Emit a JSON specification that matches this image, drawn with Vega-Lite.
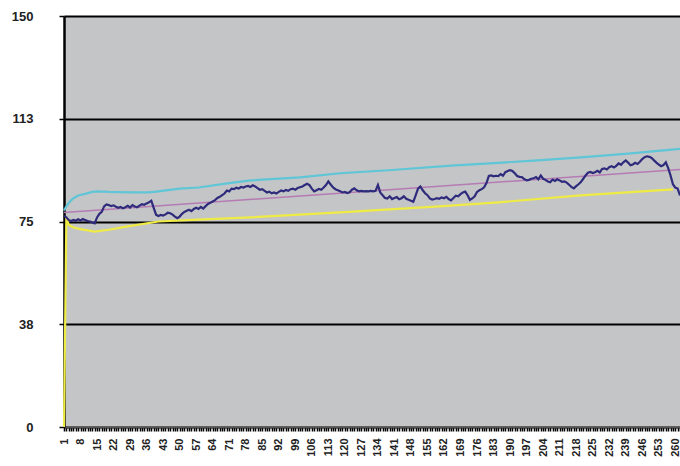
{
  "$schema": "https://vega.github.io/schema/vega-lite/v6.json",
  "width": 616,
  "height": 411,
  "autosize": {"type": "none"},
  "padding": {"left": 64, "top": 16, "right": 0, "bottom": 39},
  "background": "white",
  "config": {"view": {"fill": "#c4c5c7", "stroke": null}, "font": "Liberation Sans"},
  "datasets": {
    "price": [
      {"i":1,"v":77},{"i":2,"v":76.5},{"i":3,"v":75.5},{"i":4,"v":75.2},{"i":5,"v":75.6},{"i":6,"v":75.3},{"i":7,"v":75.8},{"i":8,"v":75.4},{"i":9,"v":75.9},{"i":10,"v":75.5},
      {"i":11,"v":75.2},{"i":12,"v":75.0},{"i":13,"v":74.6},{"i":14,"v":74.3},{"i":15,"v":76.5},{"i":16,"v":77.8},{"i":17,"v":78.5},{"i":18,"v":80.5},{"i":19,"v":81.2},{"i":20,"v":81.0},
      {"i":21,"v":80.6},{"i":22,"v":80.9},{"i":23,"v":80.4},{"i":24,"v":80.0},{"i":25,"v":80.3},{"i":26,"v":79.8},{"i":27,"v":80.2},{"i":28,"v":80.7},{"i":29,"v":80.1},{"i":30,"v":81.0},
      {"i":31,"v":80.5},{"i":32,"v":80.2},{"i":33,"v":80.8},{"i":34,"v":81.3},{"i":35,"v":81.1},{"i":36,"v":81.6},{"i":37,"v":82.0},{"i":38,"v":82.6},{"i":39,"v":80.0},{"i":40,"v":77.5},
      {"i":41,"v":77.0},{"i":42,"v":77.4},{"i":43,"v":77.2},{"i":44,"v":77.6},{"i":45,"v":78.2},{"i":46,"v":78.0},{"i":47,"v":77.5},{"i":48,"v":76.8},{"i":49,"v":76.2},{"i":50,"v":76.8},
      {"i":51,"v":77.8},{"i":52,"v":78.5},{"i":53,"v":78.9},{"i":54,"v":79.3},{"i":55,"v":78.8},{"i":56,"v":79.6},{"i":57,"v":80.0},{"i":58,"v":79.6},{"i":59,"v":80.3},{"i":60,"v":79.7},
      {"i":61,"v":80.6},{"i":62,"v":81.4},{"i":63,"v":81.8},{"i":64,"v":82.3},{"i":65,"v":82.8},{"i":66,"v":83.6},{"i":67,"v":84.0},{"i":68,"v":84.6},{"i":69,"v":85.2},{"i":70,"v":86.3},
      {"i":71,"v":86.0},{"i":72,"v":87.0},{"i":73,"v":86.8},{"i":74,"v":87.3},{"i":75,"v":87.0},{"i":76,"v":87.6},{"i":77,"v":87.4},{"i":78,"v":87.8},{"i":79,"v":88.0},{"i":80,"v":87.6},
      {"i":81,"v":88.2},{"i":82,"v":87.8},{"i":83,"v":87.2},{"i":84,"v":86.6},{"i":85,"v":86.8},{"i":86,"v":86.2},{"i":87,"v":85.6},{"i":88,"v":85.9},{"i":89,"v":85.3},{"i":90,"v":85.6},
      {"i":91,"v":85.2},{"i":92,"v":85.8},{"i":93,"v":86.3},{"i":94,"v":86.0},{"i":95,"v":86.5},{"i":96,"v":86.2},{"i":97,"v":86.8},{"i":98,"v":87.0},{"i":99,"v":86.6},{"i":100,"v":87.2},
      {"i":101,"v":87.5},{"i":102,"v":87.8},{"i":103,"v":88.3},{"i":104,"v":88.8},{"i":105,"v":88.3},{"i":106,"v":87.0},{"i":107,"v":86.0},{"i":108,"v":86.4},{"i":109,"v":86.9},{"i":110,"v":86.6},
      {"i":111,"v":87.4},{"i":112,"v":88.3},{"i":113,"v":89.6},{"i":114,"v":88.5},{"i":115,"v":87.4},{"i":116,"v":86.8},{"i":117,"v":86.4},{"i":118,"v":86.0},{"i":119,"v":85.6},{"i":120,"v":85.8},
      {"i":121,"v":85.4},{"i":122,"v":85.7},{"i":123,"v":86.6},{"i":124,"v":87.1},{"i":125,"v":86.4},{"i":126,"v":86.0},{"i":127,"v":86.2},{"i":128,"v":86.0},{"i":129,"v":86.1},{"i":130,"v":86.0},
      {"i":131,"v":86.2},{"i":132,"v":86.0},{"i":133,"v":86.2},{"i":134,"v":88.3},{"i":135,"v":85.6},{"i":136,"v":84.6},{"i":137,"v":83.6},{"i":138,"v":83.4},{"i":139,"v":84.2},{"i":140,"v":83.2},
      {"i":141,"v":83.6},{"i":142,"v":83.9},{"i":143,"v":83.1},{"i":144,"v":83.5},{"i":145,"v":84.2},{"i":146,"v":83.3},{"i":147,"v":82.9},{"i":148,"v":82.6},{"i":149,"v":82.2},{"i":150,"v":84.5},
      {"i":151,"v":87.0},{"i":152,"v":87.8},{"i":153,"v":86.4},{"i":154,"v":85.3},{"i":155,"v":84.6},{"i":156,"v":83.4},{"i":157,"v":83.0},{"i":158,"v":83.2},{"i":159,"v":83.5},{"i":160,"v":83.3},
      {"i":161,"v":83.8},{"i":162,"v":83.5},{"i":163,"v":84.0},{"i":164,"v":83.2},{"i":165,"v":82.7},{"i":166,"v":83.6},{"i":167,"v":84.4},{"i":168,"v":84.2},{"i":169,"v":85.0},{"i":170,"v":85.6},
      {"i":171,"v":85.9},{"i":172,"v":84.6},{"i":173,"v":82.9},{"i":174,"v":83.4},{"i":175,"v":84.2},{"i":176,"v":85.8},{"i":177,"v":86.4},{"i":178,"v":86.8},{"i":179,"v":87.5},{"i":180,"v":89.0},
      {"i":181,"v":91.6},{"i":182,"v":91.8},{"i":183,"v":91.5},{"i":184,"v":91.7},{"i":185,"v":91.6},{"i":186,"v":92.3},{"i":187,"v":91.7},{"i":188,"v":93.0},{"i":189,"v":93.4},{"i":190,"v":93.7},
      {"i":191,"v":93.4},{"i":192,"v":92.6},{"i":193,"v":91.6},{"i":194,"v":91.3},{"i":195,"v":91.2},{"i":196,"v":90.5},{"i":197,"v":90.0},{"i":198,"v":90.2},{"i":199,"v":90.6},{"i":200,"v":90.8},
      {"i":201,"v":91.2},{"i":202,"v":90.4},{"i":203,"v":91.8},{"i":204,"v":90.6},{"i":205,"v":90.2},{"i":206,"v":89.6},{"i":207,"v":89.3},{"i":208,"v":90.3},{"i":209,"v":89.8},{"i":210,"v":90.4},
      {"i":211,"v":90.0},{"i":212,"v":89.5},{"i":213,"v":89.6},{"i":214,"v":89.2},{"i":215,"v":88.4},{"i":216,"v":87.6},{"i":217,"v":87.1},{"i":218,"v":87.9},{"i":219,"v":88.6},{"i":220,"v":89.4},
      {"i":221,"v":90.6},{"i":222,"v":91.8},{"i":223,"v":92.8},{"i":224,"v":93.1},{"i":225,"v":92.7},{"i":226,"v":93.0},{"i":227,"v":93.5},{"i":228,"v":92.9},{"i":229,"v":94.2},{"i":230,"v":94.4},
      {"i":231,"v":94.0},{"i":232,"v":94.8},{"i":233,"v":95.2},{"i":234,"v":94.7},{"i":235,"v":95.3},{"i":236,"v":96.2},{"i":237,"v":95.7},{"i":238,"v":96.6},{"i":239,"v":97.3},{"i":240,"v":96.5},
      {"i":241,"v":95.5},{"i":242,"v":95.8},{"i":243,"v":96.4},{"i":244,"v":96.0},{"i":245,"v":96.8},{"i":246,"v":97.8},{"i":247,"v":98.5},{"i":248,"v":98.8},{"i":249,"v":98.6},{"i":250,"v":98.2},
      {"i":251,"v":97.3},{"i":252,"v":96.5},{"i":253,"v":95.8},{"i":254,"v":95.2},{"i":255,"v":95.6},{"i":256,"v":96.6},{"i":257,"v":94.5},{"i":258,"v":91.8},{"i":259,"v":88.6},{"i":260,"v":87.4},
      {"i":261,"v":87.0},{"i":262,"v":84.5}
    ],
    "bands": [
      {"s":"upper","i":1,"v":79},{"s":"upper","i":2,"v":80.5},{"s":"upper","i":3,"v":81.8},{"s":"upper","i":4,"v":82.7},{"s":"upper","i":5,"v":83.5},{"s":"upper","i":7,"v":84.5},{"s":"upper","i":10,"v":85.1},{"s":"upper","i":13,"v":85.8},{"s":"upper","i":15,"v":86},{"s":"upper","i":20,"v":85.8},{"s":"upper","i":30,"v":85.6},{"s":"upper","i":37,"v":85.6},{"s":"upper","i":41,"v":86},{"s":"upper","i":50,"v":87},{"s":"upper","i":58,"v":87.4},{"s":"upper","i":71,"v":89},{"s":"upper","i":80,"v":90},{"s":"upper","i":101,"v":91.1},{"s":"upper","i":118,"v":92.6},{"s":"upper","i":140,"v":93.8},{"s":"upper","i":165,"v":95.4},{"s":"upper","i":185,"v":96.4},{"s":"upper","i":200,"v":97.2},{"s":"upper","i":220,"v":98.4},{"s":"upper","i":240,"v":99.8},{"s":"upper","i":262,"v":101.5},
      {"s":"trend","i":1,"v":78.3},{"s":"trend","i":262,"v":94},
      {"s":"lower","i":1,"v":0},{"s":"lower","i":2,"v":76.5},{"s":"lower","i":3,"v":73.8},{"s":"lower","i":5,"v":72.8},{"s":"lower","i":8,"v":72.2},{"s":"lower","i":14,"v":71.3},{"s":"lower","i":20,"v":72.0},{"s":"lower","i":28,"v":73.2},{"s":"lower","i":41,"v":75.0},{"s":"lower","i":58,"v":75.7},{"s":"lower","i":80,"v":76.5},{"s":"lower","i":118,"v":78.3},{"s":"lower","i":160,"v":80.5},{"s":"lower","i":185,"v":82.0},{"s":"lower","i":220,"v":84.5},{"s":"lower","i":259,"v":86.7}
    ]
  },
  "encoding": {
    "x": {
      "field": "i", "type": "quantitative",
      "scale": {"domain": [1, 262], "nice": false, "zero": false},
      "axis": {
        "title": null, "grid": false, "tickCount": 262,
        "labelExpr": "(datum.value - 1) % 7 == 0 ? datum.label : ''",
        "labelAngle": -90, "labelOverlap": false, "labelFlush": false, "labelBound": false,
        "labelFontSize": 11, "labelFontWeight": "bold", "labelColor": "#222", "labelPadding": 7,
        "tickColor": "black", "tickSize": 4, "tickWidth": 1.5,
        "domainColor": "#555", "domainWidth": 1.5
      }
    },
    "y": {
      "field": "v", "type": "quantitative",
      "scale": {"domain": [0, 150], "nice": false, "zero": true},
      "axis": {
        "title": null, "values": [0, 37.5, 75, 112.5, 150], "format": ".0f",
        "grid": true, "gridColor": "black", "gridWidth": 2, "gridOpacity": 1,
        "labelFontSize": 13, "labelFontWeight": "bold", "labelColor": "#222", "labelPadding": 26,
        "tickColor": "black", "tickSize": 5, "tickWidth": 1.5,
        "domainColor": "black", "domainWidth": 2.5
      }
    }
  },
  "layer": [
    {"data": {"name": "bands"}, "transform": [{"filter": "datum.s == 'lower'"}], "mark": {"type": "line", "color": "#efeb45", "strokeWidth": 2.2}},
    {"data": {"name": "bands"}, "transform": [{"filter": "datum.s == 'trend'"}], "mark": {"type": "line", "color": "#b57bb3", "strokeWidth": 1.6}},
    {"data": {"name": "bands"}, "transform": [{"filter": "datum.s == 'upper'"}], "mark": {"type": "line", "color": "#5ec6d6", "strokeWidth": 2.2}},
    {"data": {"name": "price"}, "mark": {"type": "line", "color": "#2f2b7c", "strokeWidth": 2.2}}
  ]
}
